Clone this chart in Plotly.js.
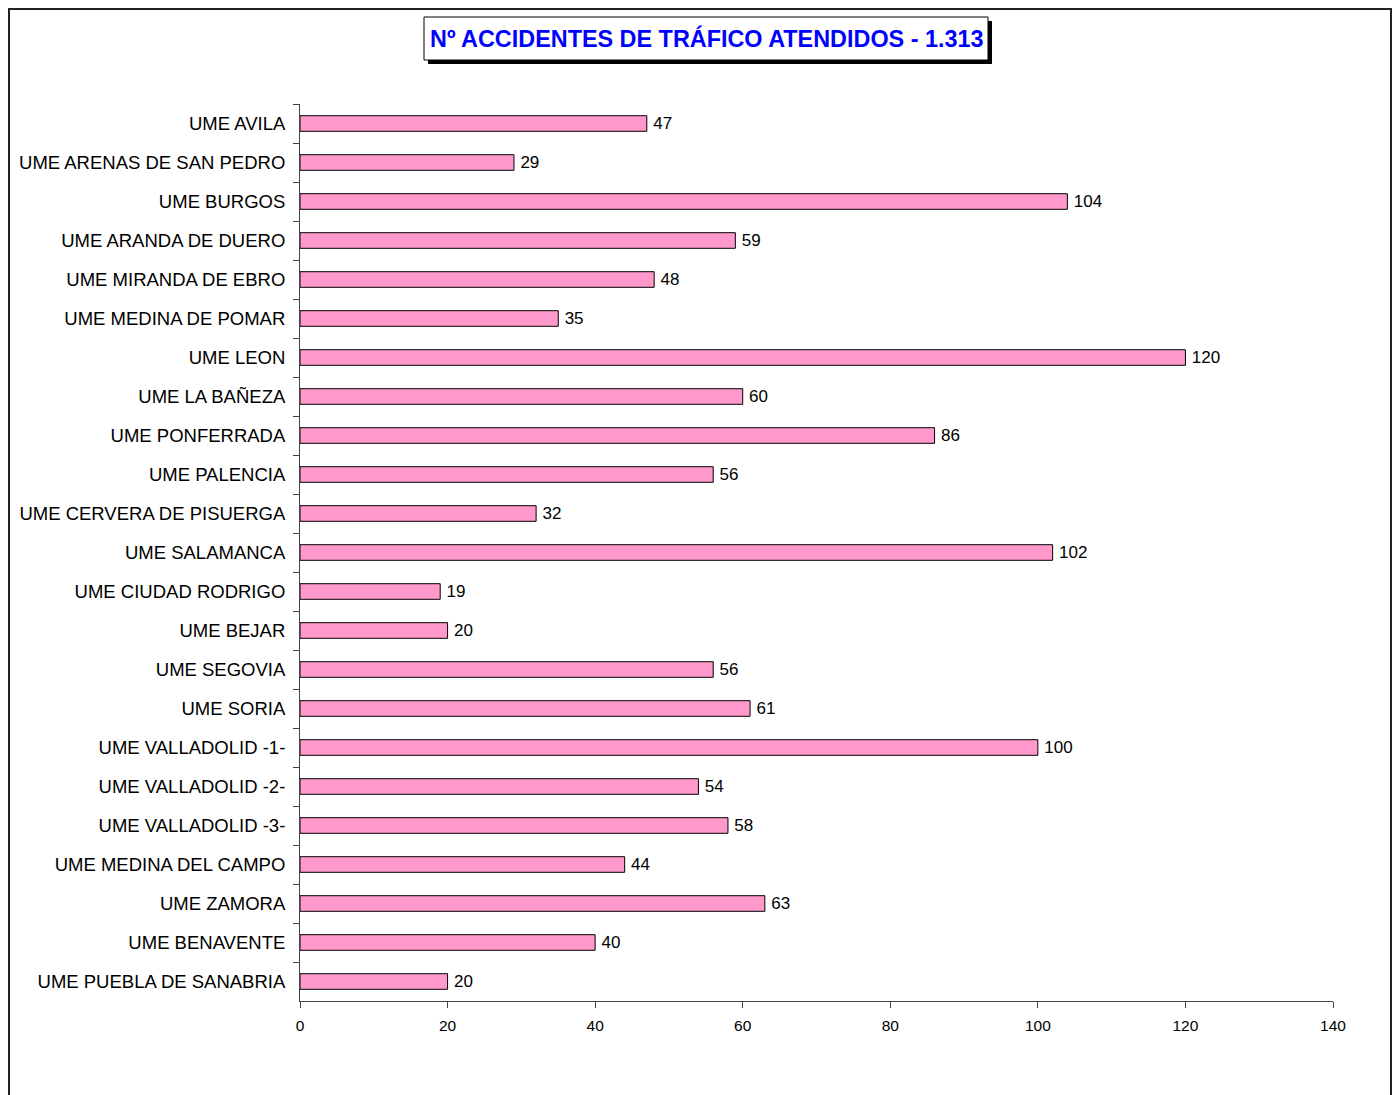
<!DOCTYPE html>
<html>
<head>
<meta charset="utf-8">
<script src="https://cdn.plot.ly/plotly-3.0.1.min.js"></script>
<style>
html,body{margin:0;padding:0;background:#fff;}
#chart{width:1399px;height:1095px;}
</style>
</head>
<body>
<div id="chart"></div>
<script>
const categories = [
  "UME AVILA","UME ARENAS DE SAN PEDRO","UME BURGOS","UME ARANDA DE DUERO",
  "UME MIRANDA DE EBRO","UME MEDINA DE POMAR","UME LEON","UME LA BAÑEZA",
  "UME PONFERRADA","UME PALENCIA","UME CERVERA DE PISUERGA","UME SALAMANCA",
  "UME CIUDAD RODRIGO","UME BEJAR","UME SEGOVIA","UME SORIA",
  "UME VALLADOLID -1-","UME VALLADOLID -2-","UME VALLADOLID -3-",
  "UME MEDINA DEL CAMPO","UME ZAMORA","UME BENAVENTE","UME PUEBLA DE SANABRIA"
];
const accidents = [47,29,104,59,48,35,120,60,86,56,32,102,19,20,56,61,100,54,58,44,63,40,20];
const xTickValues = [0,20,40,60,80,100,120,140];
const titleText = "Nº ACCIDENTES DE TRÁFICO ATENDIDOS - 1.313";

const W = 1399, H = 1095;
const M = {l:300, r:66, t:104, b:94};
const pw = W - M.l - M.r, ph = H - M.t - M.b;
const px = v => (v - M.l) / pw;
const py = v => (H - M.b - v) / ph;

const font = 'Liberation Sans, Arial, sans-serif';

const trace = {
  type: 'bar',
  orientation: 'h',
  x: accidents,
  y: categories,
  marker: {color: '#FF99CC', line: {color: '#000000', width: 1}},
  text: accidents.map(v => '\u2009' + v),
  textposition: 'outside',
  constraintext: 'none',
  cliponaxis: false,
  textfont: {family: font, size: 17, color: '#000'},
  hoverinfo: 'x+y'
};

const layout = {
  width: W, height: H,
  margin: M,
  paper_bgcolor: '#fff', plot_bgcolor: '#fff',
  showlegend: false,
  bargap: 0.6,
  font: {family: font, color: '#000'},
  xaxis: {
    range: [0, 140], tickvals: xTickValues, ticktext: xTickValues.map(String),
    showgrid: false, zeroline: false, showline: true, linecolor: '#444', linewidth: 1,
    ticks: 'outside', ticklen: 6, tickcolor: '#444', tickwidth: 1,
    tickfont: {family: font, size: 15.5, color: '#000'},
    ticklabelstandoff: 4
  },
  yaxis: {
    type: 'category', autorange: 'reversed',
    showgrid: false, zeroline: false, showline: true, linecolor: '#444', linewidth: 1,
    ticks: 'outside', ticklen: 6, tickcolor: '#444', tickwidth: 1, tickson: 'boundaries',
    tickfont: {family: font, size: 18.5, color: '#000'},
    ticklabelstandoff: 10
  },
  shapes: [
    {type:'rect', xref:'paper', yref:'paper', x0:px(9), x1:px(1391), y0:py(9), y1:py(1110),
     line:{color:'#222', width:2}, fillcolor:'rgba(0,0,0,0)'},
    {type:'rect', xref:'paper', yref:'paper', x0:px(428), x1:px(992), y0:py(21), y1:py(64),
     line:{width:0}, fillcolor:'#000'},
    {type:'rect', xref:'paper', yref:'paper', x0:px(424), x1:px(988), y0:py(17), y1:py(60),
     line:{color:'#000', width:1}, fillcolor:'#fff'}
  ],
  annotations: [
    {xref:'paper', yref:'paper', x:px(706.5), y:py(38), xanchor:'center', yanchor:'middle',
     showarrow:false, text: '<b>' + titleText + '</b>',
     font:{family: font, size: 23.4, color:'#0000FF'}}
  ]
};

Plotly.newPlot('chart', [trace], layout, {displayModeBar: false, staticPlot: true});
</script>
</body>
</html>
